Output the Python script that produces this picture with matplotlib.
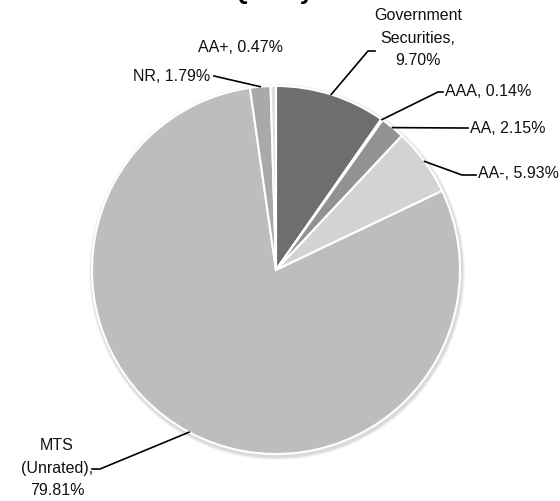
import numpy as np
import matplotlib
matplotlib.use('Agg')
import matplotlib.pyplot as plt
from matplotlib.patches import Circle

plt.rcParams['font.family'] = ['Liberation Sans', 'DejaVu Sans']

categories = ['Government\nSecurities,\n9.70%', 'AAA, 0.14%', 'AA, 2.15%', 'AA-, 5.93%',
              'MTS\n(Unrated),\n79.81%', 'NR, 1.79%', 'AA+, 0.47%']
values = [9.70, 0.14, 2.15, 5.93, 79.81, 1.79, 0.47]
colors = ['#6e6e6e', '#5e5e5e', '#929292', '#d3d3d3', '#bdbdbd', '#a9a9a9', '#dedede']

H = 501  # figure height in px, layout below is given from the top edge

# label layout in pixel coords from top-left: (text x, text y, ha, elbow points)
label_pos = [
    (418, 38, 'center', [(368, 51), (375, 51)]),
    (445, 91, 'left', [(438, 92), (443, 92)]),
    (470, 128, 'left', [(462, 128), (468, 128)]),
    (478, 173, 'left', [(462, 175), (476, 175)]),
    (57, 468, 'center', [(100, 469), (92, 469)]),
    (210, 76, 'right', [(214, 76)]),
    (240, 47, 'center', None),
]

cx, cy, r = 276, H - 270, 184

fig = plt.figure(figsize=(5.6, 5.01), dpi=100)
ax = fig.add_axes([0, 0, 1, 1])

# soft shadow behind the pie
for k, a in [(4, 0.08), (3, 0.1), (2, 0.15)]:
    ax.add_patch(Circle((cx + 1, cy - 2), r + k, color='#888888', alpha=a, lw=0, zorder=0))

wedges, _ = ax.pie(values, colors=colors, startangle=90, counterclock=False,
                   center=(cx, cy), radius=r, frame=True,
                   wedgeprops=dict(edgecolor='white', linewidth=1.5))
for w in wedges:
    w.set_zorder(1)
ax.set_xlim(0, 560)
ax.set_ylim(0, H)
ax.set_aspect('equal')
ax.axis('off')

for w, lab, (tx, ty, ha, elbow) in zip(wedges, categories, label_pos):
    ax.text(tx, H - ty, lab, ha=ha, va='center', multialignment='center',
            fontsize=11.5, color='#111111', linespacing=1.6)
    if elbow is None:
        continue
    ang = np.deg2rad((w.theta1 + w.theta2) / 2)
    px, py = cx + r * np.cos(ang), cy + r * np.sin(ang)
    xs = [px] + [e[0] for e in elbow]
    ys = [py] + [H - e[1] for e in elbow]
    ax.plot(xs, ys, color='black', lw=1.2, zorder=3)

# title sits mostly above the top edge, as in the reference crop
fig.text(0.418, 1.014, 'Credit Quality', ha='center', va='center',
         fontsize=17.5, fontweight='bold')

fig.savefig('out.png', dpi=100)
